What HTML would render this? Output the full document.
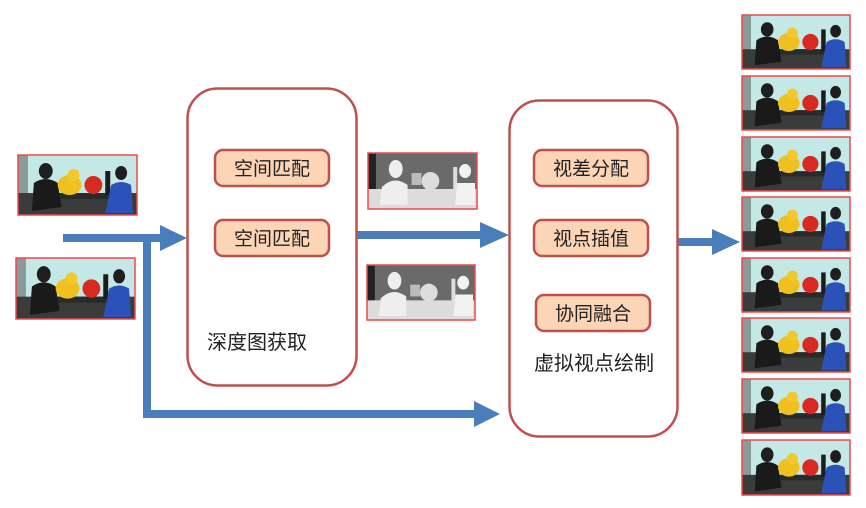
<!DOCTYPE html>
<html><head><meta charset="utf-8"><style>
html,body{margin:0;padding:0;background:#fff;}
svg{display:block;}
text{font-family:"Liberation Sans","Noto Sans CJK SC",sans-serif;fill:#222;}
</style></head><body>
<svg width="866" height="508" viewBox="0 0 866 508" xmlns="http://www.w3.org/2000/svg">
<defs>
<symbol id="ph" viewBox="0 0 120 60" preserveAspectRatio="none">
<rect width="120" height="60" fill="#c4e8e6"/>
<rect x="0" y="0" width="10" height="60" fill="#8a9a9a"/>
<rect x="0" y="38" width="120" height="22" fill="#3a3c3c"/>
<rect x="30" y="38" width="70" height="6" fill="#2a2a2a"/>
<ellipse cx="28" cy="16" rx="7" ry="8" fill="#1e1e1e"/>
<path d="M16 28 Q28 20 40 28 L44 52 L14 56 Z" fill="#1a1a1a"/>
<ellipse cx="52" cy="30" rx="12" ry="10" fill="#f0c020"/>
<ellipse cx="56" cy="20" rx="6" ry="6" fill="#f2c82a"/>
<circle cx="76" cy="30" r="9" fill="#d82a20"/>
<rect x="88" y="16" width="5" height="24" fill="#1c1c1c"/>
<ellipse cx="104" cy="18" rx="6" ry="7" fill="#1e1e1e"/>
<path d="M94 30 Q104 24 114 30 L116 58 L88 58 Z" fill="#2a52b8"/>
</symbol>
<symbol id="dp" viewBox="0 0 110 56" preserveAspectRatio="none">
<rect width="110" height="56" fill="#6a6a6a"/>
<rect width="8" height="56" fill="#222"/>
<rect x="0" y="36" width="110" height="20" fill="#dcdcdc"/>
<ellipse cx="28" cy="16" rx="7" ry="9" fill="#eee"/>
<path d="M14 34 Q26 22 40 32 L40 52 L12 52 Z" fill="#eee"/>
<circle cx="63" cy="28" r="9" fill="#ddd"/>
<rect x="44" y="20" width="10" height="12" fill="#bbb"/>
<rect x="86" y="14" width="4" height="26" fill="#ddd"/>
<ellipse cx="98" cy="18" rx="6" ry="7" fill="#f2f2f2"/>
<path d="M90 30 L108 30 L108 52 L88 52 Z" fill="#f2f2f2"/>
</symbol>
</defs>

<!-- input photos -->
<use href="#ph" x="18" y="155" width="119" height="60"/>
<rect x="18" y="155" width="119" height="60" fill="none" stroke="#f04848" stroke-width="1.5"/>
<use href="#ph" x="16" y="258" width="119" height="61"/>
<rect x="16" y="258" width="119" height="61" fill="none" stroke="#f04848" stroke-width="1.5"/>

<!-- arrows -->
<g fill="#4a7ebb">
<rect x="63" y="234" width="100" height="8"/>
<polygon points="160,225 187,238 160,251"/>
<rect x="143" y="240" width="8" height="178"/>
<rect x="143" y="410" width="335" height="8"/>
<polygon points="474,401 500,414 474,427"/>
<rect x="357" y="231" width="126" height="8"/>
<polygon points="480,222 509,235 480,248"/>
<rect x="678" y="238" width="37" height="8"/>
<polygon points="712,229 740,242 712,255"/>
</g>

<!-- box 1 -->
<rect x="187.5" y="88.5" width="169" height="297" rx="30" fill="#fff" stroke="#c0504d" stroke-width="2.5"/>
<rect x="215" y="150" width="114" height="36" rx="8" fill="#fbd5b5" stroke="#c0504d" stroke-width="2.5"/>
<text x="272" y="175" font-size="19" text-anchor="middle">空间匹配</text>
<rect x="215" y="220" width="114" height="36" rx="8" fill="#fbd5b5" stroke="#c0504d" stroke-width="2.5"/>
<text x="272" y="245" font-size="19" text-anchor="middle">空间匹配</text>
<text x="207" y="349" font-size="20">深度图获取</text>

<!-- depth maps -->
<use href="#dp" x="368" y="153" width="109" height="56"/>
<rect x="368" y="153" width="109" height="56" fill="none" stroke="#f04848" stroke-width="1.5"/>
<use href="#dp" x="367" y="265" width="108" height="55"/>
<rect x="367" y="265" width="108" height="55" fill="none" stroke="#f04848" stroke-width="1.5"/>

<!-- box 2 -->
<rect x="509.5" y="100.5" width="168" height="336" rx="30" fill="#fff" stroke="#c0504d" stroke-width="2.5"/>
<rect x="534" y="150" width="114" height="36" rx="8" fill="#fbd5b5" stroke="#c0504d" stroke-width="2.5"/>
<text x="591" y="175" font-size="19" text-anchor="middle">视差分配</text>
<rect x="534" y="220" width="114" height="36" rx="8" fill="#fbd5b5" stroke="#c0504d" stroke-width="2.5"/>
<text x="591" y="245" font-size="19" text-anchor="middle">视点插值</text>
<rect x="536" y="295" width="114" height="36" rx="8" fill="#fbd5b5" stroke="#c0504d" stroke-width="2.5"/>
<text x="593" y="320" font-size="19" text-anchor="middle">协同融合</text>
<text x="534" y="370" font-size="20">虚拟视点绘制</text>

<!-- output photos -->
<g>
<use href="#ph" x="742" y="15" width="108" height="54"/><rect x="742" y="15" width="108" height="54" fill="none" stroke="#f04848" stroke-width="1.5"/>
<use href="#ph" x="742" y="76" width="108" height="54"/><rect x="742" y="76" width="108" height="54" fill="none" stroke="#f04848" stroke-width="1.5"/>
<use href="#ph" x="742" y="137" width="108" height="54"/><rect x="742" y="137" width="108" height="54" fill="none" stroke="#f04848" stroke-width="1.5"/>
<use href="#ph" x="742" y="197" width="108" height="54"/><rect x="742" y="197" width="108" height="54" fill="none" stroke="#f04848" stroke-width="1.5"/>
<use href="#ph" x="742" y="258" width="108" height="54"/><rect x="742" y="258" width="108" height="54" fill="none" stroke="#f04848" stroke-width="1.5"/>
<use href="#ph" x="742" y="318" width="108" height="54"/><rect x="742" y="318" width="108" height="54" fill="none" stroke="#f04848" stroke-width="1.5"/>
<use href="#ph" x="742" y="379" width="108" height="54"/><rect x="742" y="379" width="108" height="54" fill="none" stroke="#f04848" stroke-width="1.5"/>
<use href="#ph" x="742" y="440" width="108" height="55"/><rect x="742" y="440" width="108" height="55" fill="none" stroke="#f04848" stroke-width="1.5"/>
</g>
</svg>
</body></html>
